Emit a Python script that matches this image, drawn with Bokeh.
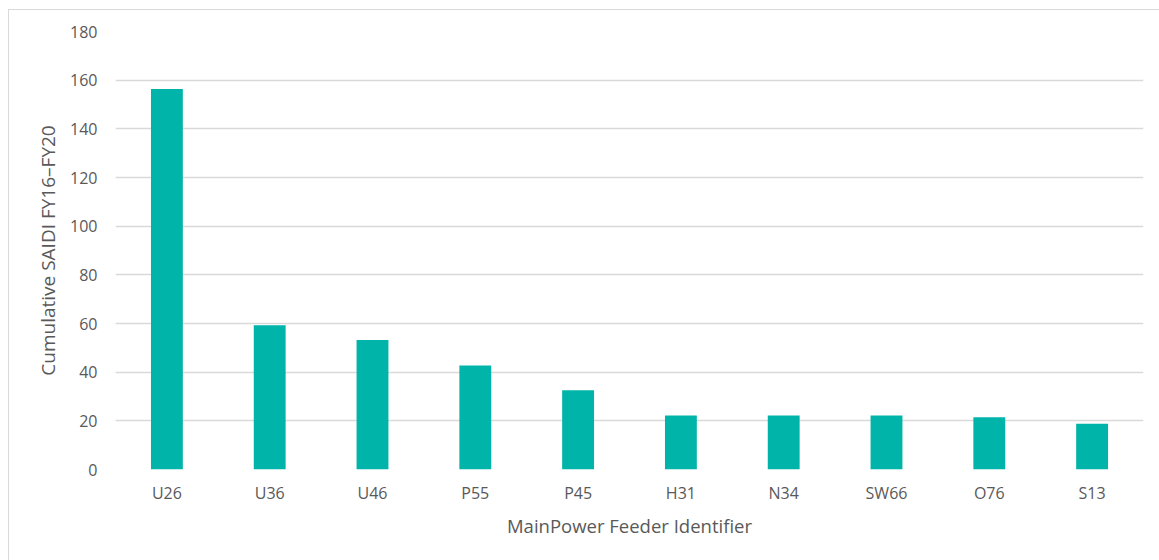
from bokeh.plotting import figure
from bokeh.models import Range1d, FactorRange, ColumnDataSource
from bokeh.embed import file_html
from bokeh.resources import INLINE

feeders = ["U26", "U36", "U46", "P55", "P45", "H31", "N34", "SW66", "O76", "S13"]
saidi = [156.4, 59.3, 53.2, 42.7, 32.6, 22.2, 22.2, 22.2, 21.5, 18.8]
y_ticks = [0, 20, 40, 60, 80, 100, 120, 140, 160, 180]

FONT = "Open Sans"
TXT = "#595959"
GRID = "#d9d9d9"

src = ColumnDataSource(dict(x=feeders, y=saidi))

p = figure(
    width=1151, height=551,
    x_range=FactorRange(factors=feeders, range_padding=0),
    y_range=Range1d(0, 180),
    output_backend="svg", toolbar_location=None,
    min_border_left=106, min_border_right=17,
    min_border_top=21, min_border_bottom=92,
    margin=(9, 0, 0, 8),
    styles={"border-top": "1px solid #d9d9d9", "border-left": "1px solid #d9d9d9"},
)
p.vbar(x="x", top="y", width=0.31, source=src, fill_color="#00B4AA", line_color=None)

p.outline_line_color = None
p.background_fill_color = "white"
p.border_fill_color = "white"

p.xgrid.grid_line_color = None
p.ygrid.grid_line_color = GRID
p.ygrid.grid_line_width = 1.3
p.yaxis.ticker = y_ticks

for ax in (p.xaxis[0], p.yaxis[0]):
    ax.axis_line_color = None
    ax.major_tick_line_color = None
    ax.minor_tick_line_color = None
    ax.major_label_text_font = FONT
    ax.major_label_text_font_size = "16px"
    ax.major_label_text_color = TXT
    ax.axis_label_text_font = FONT
    ax.axis_label_text_font_style = "normal"
    ax.axis_label_text_color = TXT

p.xaxis.axis_label = "MainPower Feeder Identifier"
p.yaxis.axis_label = "Cumulative SAIDI FY16\u2013FY20"
p.xaxis.axis_label_text_font_size = "18.5px"
p.yaxis.axis_label_text_font_size = "19px"
p.xaxis.major_label_standoff = 6
p.xaxis.axis_label_standoff = 6
p.yaxis.major_label_standoff = 12
p.yaxis.axis_label_standoff = 6

open("out.html", "w").write(file_html(p, INLINE))
